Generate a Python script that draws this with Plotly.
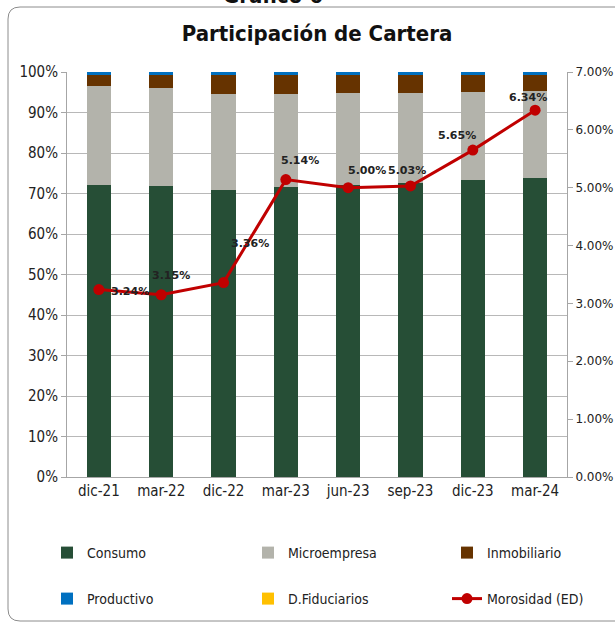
import plotly.graph_objects as go

categories = ["dic-21", "mar-22", "dic-22", "mar-23", "jun-23", "sep-23", "dic-23", "mar-24"]
consumo = [72.1, 71.8, 70.9, 71.6, 72.0, 72.5, 73.3, 73.8]
microempresa = [24.5, 24.3, 23.7, 23.0, 22.7, 22.4, 21.8, 21.5]
inmobiliario = [2.7, 3.2, 4.7, 4.7, 4.6, 4.4, 4.2, 4.0]
productivo = [0.7, 0.7, 0.7, 0.7, 0.7, 0.7, 0.7, 0.7]
fiduciarios = [0.0, 0.0, 0.0, 0.0, 0.0, 0.0, 0.0, 0.0]
morosidad = [3.24, 3.15, 3.36, 5.14, 5.00, 5.03, 5.65, 6.34]

# label offsets (pixels) relative to each point: (right, up)
label_shift = [(31, -2), (10, 19), (26, 39), (14, 19), (19, 17), (-3, 15), (-16, 15), (-7, 13)]

W, H = 615, 626
ML, MR, MT, MB = 67, 48, 72, 149

fig = go.Figure()
bar_specs = [
    ("Consumo", consumo, "#264E36", "legend"),
    ("Microempresa", microempresa, "#B3B3AB", "legend2"),
    ("Inmobiliario", inmobiliario, "#663300", "legend3"),
    ("Productivo", productivo, "#0070C0", "legend4"),
    ("D.Fiduciarios", fiduciarios, "#FFC000", "legend5"),
]
for name, vals, color, lg in bar_specs:
    fig.add_trace(go.Bar(x=categories, y=vals, name=name, marker_color=color,
                         marker_line_width=0, legend=lg, hoverinfo="skip",
                         showlegend=True))

fig.add_trace(go.Scatter(
    x=categories, y=morosidad, name="Morosidad (ED)", yaxis="y2", legend="legend6",
    mode="lines+markers",
    line=dict(color="#C00000", width=3),
    marker=dict(color="#C00000", size=11),
    cliponaxis=False, hoverinfo="skip", showlegend=True,
))

annotations = []
for cat, v, (dx, dy) in zip(categories, morosidad, label_shift):
    annotations.append(dict(
        x=cat, y=v, xref="x", yref="y2", text=f"<b>{v:.2f}%</b>", showarrow=False,
        xshift=dx, yshift=dy, xanchor="center", yanchor="middle",
        font=dict(family="DejaVu Sans", size=11, color="#222222")))

annotations.append(dict(text="<b>Gráfico 6</b>", xref="paper", yref="paper",
                        x=(273 - ML) / (W - ML - MR), y=1 + (MT + 4) / (H - MT - MB),
                        xanchor="center", yanchor="middle", showarrow=False,
                        font=dict(size=22, family="DejaVu Sans Condensed, DejaVu Sans",
                                  color="#111111")))

# rounded frame (paper coordinates)
pw, ph = W - ML - MR, H - MT - MB
def px(x):
    return (x - ML) / pw
def py(y):
    return (H - MB - y) / ph
x0, x1, y0, y1 = px(8), px(617), py(621), py(7)
rx, ry = 12 / pw, 12 / ph
path = (f"M {x1},{y1} L {x0+rx},{y1} Q {x0},{y1} {x0},{y1-ry} "
        f"L {x0},{y0+ry} Q {x0},{y0} {x0+rx},{y0} L {x1},{y0}")

tickfont_main = dict(size=15, family="DejaVu Sans Condensed, DejaVu Sans", color="#222222")
legend_font = dict(size=14, family="DejaVu Sans Condensed, DejaVu Sans", color="#222222")

def leg(text_x, text_y):
    return dict(orientation="h", xref="container", yref="container",
                x=(text_x - 41) / W, y=1 - text_y / H, xanchor="left", yanchor="middle",
                font=legend_font, bgcolor="rgba(0,0,0,0)")

fig.update_layout(
    width=W, height=H, showlegend=True,
    margin=dict(l=ML, r=MR, t=MT, b=MB, autoexpand=False),
    paper_bgcolor="white", plot_bgcolor="white",
    barmode="stack", bargap=0.61,
    font=dict(family="DejaVu Sans", color="#222222"),
    title=dict(text="<b>Participación de Cartera</b>", x=0.5, xref="paper",
               y=1 - 33 / H, yref="container", yanchor="middle",
               font=dict(family="DejaVu Sans Condensed, DejaVu Sans", size=22, color="#111111")),
    xaxis=dict(showline=True, linecolor="#a6a6a6", linewidth=1, ticks="",
               automargin=False, tickfont=tickfont_main),
    yaxis=dict(range=[0, 100], dtick=10, ticksuffix="%", showgrid=True,
               gridcolor="#b8b8b8", gridwidth=1, showline=True, linecolor="#a6a6a6",
               ticks="outside", ticklen=5, tickcolor="#a6a6a6", zeroline=False,
               automargin=False, tickfont=tickfont_main),
    yaxis2=dict(range=[0, 7], dtick=1, tickformat=".2f", ticksuffix="%",
                overlaying="y", side="right", showgrid=False, showline=True,
                linecolor="#a6a6a6", ticks="outside", ticklen=5, tickcolor="#a6a6a6",
                zeroline=False, automargin=False,
                tickfont=dict(size=12, family="DejaVu Sans", color="#222222")),
    legend=leg(88, 553), legend2=leg(289, 553), legend3=leg(488, 553),
    legend4=leg(88, 599), legend5=leg(289, 599), legend6=leg(488, 599),
    shapes=[dict(type="path", xref="paper", yref="paper", path=path,
                 line=dict(color="#8c8c8c", width=1))],
    annotations=annotations,
)

fig.write_html("out.html", config={"displayModeBar": False},
               post_script="document.body.style.margin='0';")
